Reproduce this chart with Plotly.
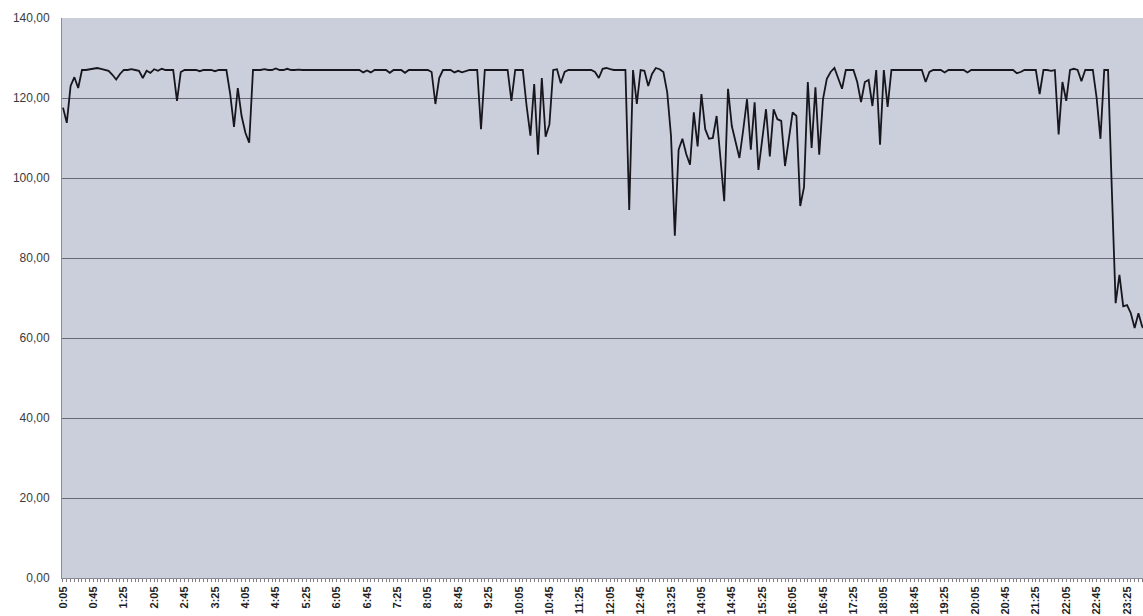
import plotly.graph_objects as go

# ---- data (5-minute samples starting at 0:05) ----
start_minutes = 5
step_minutes = 5

speed_values = [
    117.6, 113.8, 123.0, 125.2, 122.5, 127.0, 127.0, 127.2, 127.3, 127.5,
    127.3, 127.0, 126.8, 125.8, 124.6, 126.0, 127.0, 127.0, 127.2, 127.0,
    126.8, 125.0, 126.8, 126.3, 127.2, 126.8, 127.3, 127.0, 127.0, 127.0,
    119.3, 126.5, 127.0, 127.0, 127.0, 127.0, 126.7, 127.0, 127.0, 127.0,
    126.7, 127.0, 127.0, 127.0, 121.0, 112.8, 122.5, 115.5, 111.3, 108.8,
    127.0, 127.0, 127.0, 127.2, 127.0, 127.0, 127.4, 127.0, 127.0, 127.3,
    127.0, 127.0, 127.1, 127.0, 127.0, 127.0, 127.0, 127.0, 127.0, 127.0,
    127.0, 127.0, 127.0, 127.0, 127.0, 127.0, 127.0, 127.0, 127.0, 126.4,
    126.9, 126.4, 127.0, 127.0, 127.0, 127.0, 126.3, 127.0, 127.0, 127.0,
    126.3, 127.0, 127.0, 127.0, 127.0, 127.0, 127.0, 126.5, 118.5, 125.0,
    127.0, 127.0, 127.0, 126.4, 126.8, 126.4, 126.8, 127.0, 127.0, 127.0,
    112.2, 127.0, 127.0, 127.0, 127.0, 127.0, 127.0, 127.0, 119.3, 127.0,
    127.0, 127.0, 118.0, 110.6, 123.5, 105.8, 125.0, 110.3, 113.4, 127.0,
    127.2, 123.7, 126.5, 127.0, 127.0, 127.0, 127.0, 127.0, 127.0, 127.0,
    126.5, 125.0, 127.3, 127.5, 127.2, 127.0, 127.0, 127.0, 127.0, 92.0,
    127.0, 118.5, 127.0, 126.8, 123.0, 126.0, 127.5, 127.2, 126.5, 121.4,
    110.5, 85.6, 107.1, 109.8, 106.0, 103.3, 116.4, 107.9, 121.0, 112.2,
    109.8, 110.0, 115.5, 105.0, 94.2, 122.3, 113.0, 109.0, 105.0, 112.0,
    119.7, 107.1, 118.9, 102.0, 110.0, 117.2, 105.4, 117.2, 114.7, 114.3,
    103.0, 110.0, 116.4, 115.5, 93.0, 97.7, 124.0, 107.5, 122.7, 105.8,
    119.7, 124.8, 126.5, 127.5, 125.0, 122.3, 127.0, 127.0, 127.0, 124.0,
    119.0, 124.0, 124.5, 118.0, 127.0, 108.3, 127.0, 117.8, 127.0, 127.0,
    127.0, 127.0, 127.0, 127.0, 127.0, 127.0, 127.0, 124.0, 126.5, 127.0,
    127.0, 127.0, 126.4, 127.0, 127.0, 127.0, 127.0, 127.0, 126.4, 127.0,
    127.0, 127.0, 127.0, 127.0, 127.0, 127.0, 127.0, 127.0, 127.0, 127.0,
    127.0, 126.2, 126.5, 127.0, 127.0, 127.0, 127.0, 121.0, 127.0, 127.0,
    126.8, 127.0, 110.9, 124.0, 119.3, 127.0, 127.3, 127.0, 124.2, 127.0,
    127.0, 127.0, 120.0, 109.8, 127.0, 127.0, 97.0, 68.7, 75.8, 67.9,
    68.2, 66.2, 62.5, 66.2, 62.8, 62.0,
]

times = []
for k in range(len(speed_values)):
    m = start_minutes + k * step_minutes
    times.append(f"{m // 60}:{m % 60:02d}")

tick_labels = [
    "0:05", "0:45", "1:25", "2:05", "2:45", "3:25", "4:05", "4:45", "5:25",
    "6:05", "6:45", "7:25", "8:05", "8:45", "9:25", "10:05", "10:45", "11:25",
    "12:05", "12:45", "13:25", "14:05", "14:45", "15:25", "16:05", "16:45",
    "17:25", "18:05", "18:45", "19:25", "20:05", "20:45", "21:25", "22:05",
    "22:45", "23:25",
]

y_range = [0, 140]
y_step = 20

ticktext = [t if t in tick_labels else "" for t in times]

fig = go.Figure()
fig.add_trace(go.Scatter(
    x=times, y=speed_values, mode="lines",
    line=dict(color="#16161c", width=1.8),
    showlegend=False, hoverinfo="x+y",
))

fig.update_layout(
    width=1143, height=616,
    margin=dict(l=62, r=0, t=18, b=38, pad=0),
    paper_bgcolor="white",
    plot_bgcolor="#cbcedb",
    separators=",.",
    template="none",
    showlegend=False,
)

fig.update_xaxes(
    type="category",
    range=[-0.26, 284.2],
    tickmode="array",
    tickvals=times,
    ticktext=ticktext,
    tickangle=-90,
    ticks="outside", ticklen=3, tickwidth=1, tickcolor="#7a7a80",
    showline=True, linecolor="#8a8c96", linewidth=1,
    showgrid=False, zeroline=False,
    tickfont=dict(family="Liberation Sans, Arial", size=11, color="#1e1e1e", weight="bold"),
    automargin=False,
)

fig.update_yaxes(
    range=y_range,
    tick0=0, dtick=y_step,
    tickformat=".2f",
    showgrid=True, gridcolor="#666874", gridwidth=1,
    showline=True, linecolor="#8a8c96", linewidth=1,
    zeroline=False,
    ticks="outside", ticklen=9, tickcolor="rgba(0,0,0,0)",
    tickfont=dict(family="Liberation Sans, Arial", size=12, color="#3a3a3a"),
    automargin=False,
)

fig.write_html(
    "out.html",
    config={"displayModeBar": False},
    post_script="document.body.style.margin='0';document.body.style.overflow='hidden';",
)
